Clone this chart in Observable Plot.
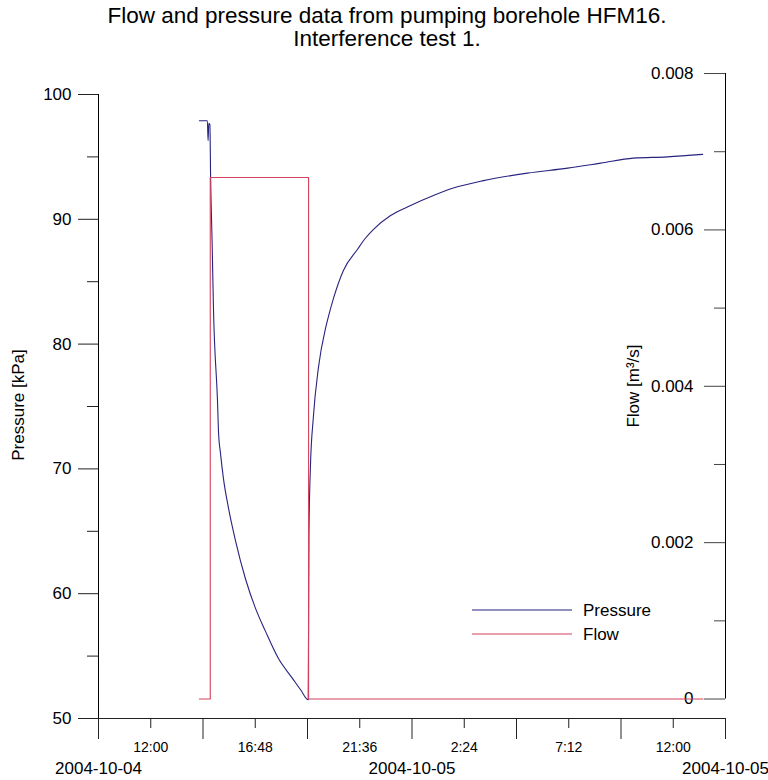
<!DOCTYPE html>
<html><head><meta charset="utf-8">
<script src="https://cdn.jsdelivr.net/npm/d3@7"></script>
<script src="https://cdn.jsdelivr.net/npm/@observablehq/plot@0.6"></script>
<style>
html,body{margin:0;padding:0;background:#fff;}
#chart{position:relative;width:768px;height:780px;overflow:hidden;}
</style></head><body><div id="chart"></div>
<script>
const titleLines = ["Flow and pressure data from pumping borehole HFM16.", "Interference test 1."];
const pressureLabel = "Pressure [kPa]";
const flowLabel = "Flow [m³/s]";
const legendLabels = ["Pressure", "Flow"];

const pressureTimes = [
  "2004-10-04T14:14","2004-10-04T14:36","2004-10-04T14:38","2004-10-04T14:40","2004-10-04T14:43",
  "2004-10-04T14:45","2004-10-04T14:49","2004-10-04T14:53","2004-10-04T15:04","2004-10-04T15:07",
  "2004-10-04T15:12","2004-10-04T15:20","2004-10-04T15:34","2004-10-04T15:54","2004-10-04T16:21",
  "2004-10-04T16:49","2004-10-04T17:16","2004-10-04T17:52","2004-10-04T18:31","2004-10-04T18:53",
  "2004-10-04T19:14","2004-10-04T19:16","2004-10-04T19:20","2004-10-04T19:28","2004-10-04T19:42",
  "2004-10-04T20:02","2004-10-04T20:07","2004-10-04T20:24","2004-10-04T20:51","2004-10-04T21:30",
  "2004-10-04T21:52","2004-10-04T22:14","2004-10-04T23:01","2004-10-04T23:56","2004-10-05T00:59",
  "2004-10-05T01:54","2004-10-05T03:17","2004-10-05T05:18","2004-10-05T07:09","2004-10-05T08:40",
  "2004-10-05T10:10","2004-10-05T11:44","2004-10-05T13:21"
];
const pressureValues = [
  97.9, 97.9, 96.3, 97.7, 97.6,
  93.3, 88.3, 82.7, 75.4, 72.8,
  71.3, 69.3, 66.9, 64.2, 61.2,
  58.8, 57.0, 54.8, 53.2, 52.3,
  51.5, 64.8, 70.1, 74.1, 78.1,
  81.3, 81.9, 83.7, 85.9, 87.6,
  88.5, 89.2, 90.3, 91.1, 91.9,
  92.5, 93.1, 93.7, 94.1, 94.5,
  94.9, 95.0, 95.2
];
const flowTimes = ["2004-10-04T14:14","2004-10-04T14:44","2004-10-04T14:44","2004-10-04T19:15","2004-10-04T19:15","2004-10-05T13:22"];
const flowValues = [0, 0, 0.00667, 0.00667, 0, 0];

const xDomain = ["2004-10-04T09:36", "2004-10-05T14:24"];
const pressureTicks = [50, 60, 70, 80, 90, 100];
const pressureMinorTicks = [55, 65, 75, 85, 95];
const flowTicks = [0, 0.002, 0.004, 0.006, 0.008];
const flowTickLabels = ["0", "0.002", "0.004", "0.006", "0.008"];
const flowMinorTicks = [0.001, 0.003, 0.005, 0.007];
const timeTicks = ["2004-10-04T12:00","2004-10-04T16:48","2004-10-04T21:36","2004-10-05T02:24","2004-10-05T07:12","2004-10-05T12:00"];
const timeLongTicks = ["2004-10-04T09:36","2004-10-04T14:24","2004-10-04T19:12","2004-10-05T00:00","2004-10-05T04:48","2004-10-05T09:36","2004-10-05T14:24"];
const dateTicks = ["2004-10-04T09:36","2004-10-05T00:00","2004-10-05T14:24"];

const parse = d3.utcParse("%Y-%m-%dT%H:%M");
const pressure = pressureTimes.map((t, i) => ({time: parse(t), value: pressureValues[i]}));
const flowToP = d3.scaleLinear([0, 0.008], [51.56, 101.68]);
const flow = flowTimes.map((t, i) => ({time: parse(t), value: flowToP(flowValues[i])}));
const x0 = parse(xDomain[0]), x1 = parse(xDomain[1]);

const font = "'Liberation Sans', Arial, Helvetica, sans-serif";
const pressureColor = "#27237f";
const flowColor = "#d6405c";
const axisShift = 627;

const flowTickP = flowTicks.map(f => flowToP(f));
const flowFmt = p => {
  const i = flowTickP.findIndex(v => Math.abs(v - p) < 1e-6);
  return i >= 0 ? flowTickLabels[i] : "";
};

const chart = Plot.plot({
  width: 768,
  height: 780,
  marginLeft: 98,
  marginRight: 43,
  marginTop: 60,
  marginBottom: 62,
  style: {fontFamily: font, fontSize: "17px", color: "#000", background: "#fff", overflow: "visible"},
  x: {type: "utc", domain: [x0, x1], range: [98, 725]},
  y: {domain: [50, 100], range: [718, 94]},
  marks: [
    // left axis
    Plot.ruleX([x0], {x: d => d, y1: () => 50, y2: () => 100, stroke: "#000"}),
    Plot.axisY({ticks: pressureTicks, tickSize: 20, tickPadding: 7, fontSize: 17, label: null, stroke: "#222"}),
    Plot.axisY({ticks: pressureMinorTicks, tickSize: 11, fill: "none", label: null, stroke: "#222"}),
    // right axis (flow)
    Plot.ruleX([x1], {x: d => d, y1: () => flowToP(0), y2: () => flowToP(0.008), stroke: "#000"}),
    Plot.axisY({ticks: flowTickP, tickFormat: flowFmt, tickSize: 21, tickPadding: 11, dx: axisShift, fontSize: 17, label: null, stroke: "#444"}),
    Plot.axisY({ticks: flowMinorTicks.map(f => flowToP(f)), tickSize: 11, fill: "none", dx: axisShift, label: null, stroke: "#444"}),
    // bottom axis
    Plot.ruleY([50], {y: d => d, x1: () => x0, x2: () => x1, stroke: "#222"}),
    Plot.axisX({ticks: timeTicks.map(parse), tickSize: 10, tickPadding: 14, tickFormat: d3.utcFormat("%-H:%M"), fontSize: 14, label: null, stroke: "#222"}),
    Plot.axisX({ticks: timeLongTicks.map(parse), tickSize: 21, fill: "none", label: null, stroke: "#222"}),
    Plot.axisX({ticks: dateTicks.map(parse), tickSize: 0, tickPadding: 43, tickFormat: d3.utcFormat("%Y-%m-%d"), fontSize: 17, label: null}),
    // data
    Plot.line(pressure, {x: "time", y: "value", stroke: pressureColor, strokeWidth: 1.1, curve: "monotone-x"}),
    Plot.line(flow, {x: "time", y: "value", stroke: flowColor, strokeWidth: 1.1})
  ]
});

document.getElementById("chart").appendChild(chart);
const svg = d3.select(chart);

// title
const title = svg.append("text").attr("text-anchor", "middle").attr("font-size", 22.5).attr("font-family", font).attr("fill", "#000");
titleLines.forEach((t, i) => title.append("tspan").attr("x", 387).attr("y", 23 + i * 23).text(t));

// axis labels
svg.append("text").attr("transform", "translate(24,405) rotate(-90)").attr("text-anchor", "middle")
  .attr("font-size", 17).attr("font-family", font).text(pressureLabel);
svg.append("text").attr("transform", "translate(639,386) rotate(-90)").attr("text-anchor", "middle")
  .attr("font-size", 17).attr("font-family", font).text(flowLabel);

// legend
const legend = svg.append("g");
[[legendLabels[0], pressureColor], [legendLabels[1], flowColor]].forEach(([name, c], i) => {
  const y = 610 + i * 24;
  legend.append("line").attr("x1", 472).attr("x2", 572).attr("y1", y).attr("y2", y).attr("stroke", c).attr("stroke-width", 1.1);
  legend.append("text").attr("x", 583).attr("y", y).attr("dy", "0.35em").attr("text-anchor", "start")
    .attr("font-size", 17).attr("font-family", font).text(name);
});
</script></body></html>
